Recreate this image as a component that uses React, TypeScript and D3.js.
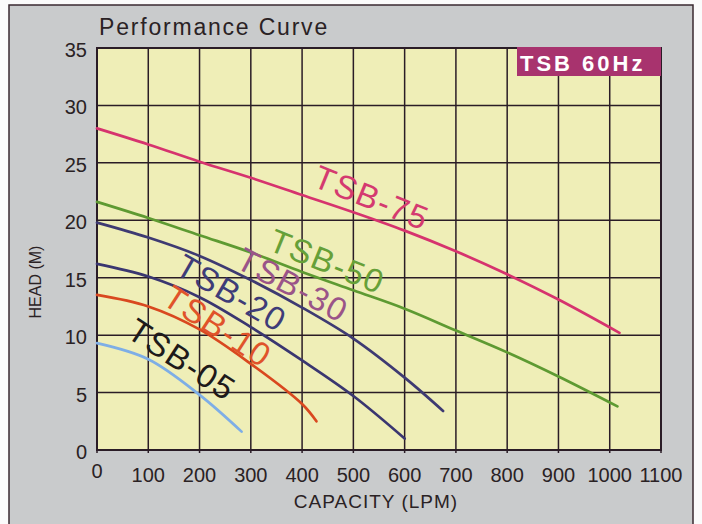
import React, { useEffect, useRef } from 'react'
import * as d3 from 'd3'

type TPoint = [number, number]

const capacityTicks = [0, 100, 200, 300, 400, 500, 600, 700, 800, 900, 1000, 1100]
const headTicks = [0, 5, 10, 15, 20, 25, 30, 35]

const models = ['TSB-75', 'TSB-50', 'TSB-30', 'TSB-20', 'TSB-10', 'TSB-05']

const tsb75: TPoint[] = [[0, 28], [100, 26.6], [200, 25.1], [300, 23.7], [400, 22.2], [500, 20.7], [600, 19.1], [700, 17.3], [800, 15.3], [900, 13.1], [1019, 10.2]]
const tsb50: TPoint[] = [[0, 21.6], [100, 20.2], [200, 18.7], [300, 17.2], [400, 15.5], [500, 13.9], [600, 12.3], [700, 10.4], [800, 8.5], [900, 6.4], [1015, 3.8]]
const tsb30: TPoint[] = [[0, 19.8], [100, 18.5], [200, 16.9], [300, 14.8], [400, 12.4], [500, 9.7], [600, 6.3], [675, 3.4]]
const tsb20: TPoint[] = [[0, 16.2], [100, 15.1], [200, 13.3], [300, 10.7], [400, 7.8], [500, 4.7], [600, 1.0]]
const tsb10: TPoint[] = [[0, 13.5], [100, 12.5], [200, 10.5], [300, 7.5], [400, 4.0], [428, 2.5]]
const tsb05: TPoint[] = [[0, 9.3], [100, 7.9], [200, 4.8], [282, 1.6]]

// where each model name sits (capacity, head) and its tilt in degrees
const labelCapacity = [536, 449, 382, 263, 236, 166]
const labelHead = [22.0, 16.45, 14.4, 13.7, 10.8, 7.9]
const labelAngle = [22, 22, 28, 30, 33, 33]

const series = [tsb75, tsb50, tsb30, tsb20, tsb10, tsb05]
const lineColors = ['#d6336e', '#5e9a32', '#3e3a72', '#3a3670', '#d9481f', '#7eaee6']
const textColors = ['#d43a70', '#66a038', '#9a5488', '#3e3c78', '#e0532a', '#1e1a1a']

const W = 702
const H = 524
const plot = { left: 97, right: 661, top: 48, bottom: 450 }
const FONT = '"Liberation Sans", Arial, sans-serif'

const App = (): JSX.Element => {
  const ref = useRef<SVGSVGElement>(null)

  useEffect(() => {
    const svg = d3.select(ref.current)
    svg.selectAll('*').remove()

    const x = d3.scaleLinear().domain([0, 1100]).range([plot.left, plot.right])
    const y = d3.scaleLinear().domain([0, 35]).range([plot.bottom, plot.top])

    // page + grey panel
    svg.append('rect').attr('width', W).attr('height', H).attr('fill', '#fbfbfb')
    svg
      .append('rect')
      .attr('x', 9)
      .attr('y', 5)
      .attr('width', 684)
      .attr('height', 530)
      .attr('fill', '#c9cbcc')
      .attr('stroke', '#3a2a30')
      .attr('stroke-width', 1.5)

    svg
      .append('text')
      .attr('x', 99)
      .attr('y', 35)
      .attr('font-family', FONT)
      .attr('font-size', 23)
      .attr('letter-spacing', 1.8)
      .attr('fill', '#2a2224')
      .text('Performance Curve')

    // plot background
    svg
      .append('rect')
      .attr('x', plot.left)
      .attr('y', plot.top)
      .attr('width', plot.right - plot.left)
      .attr('height', plot.bottom - plot.top)
      .attr('fill', '#efeeb7')

    // grid
    svg
      .append('g')
      .selectAll('line')
      .data(capacityTicks)
      .join('line')
      .attr('x1', d => x(d))
      .attr('x2', d => x(d))
      .attr('y1', plot.top)
      .attr('y2', plot.bottom + 3)
      .attr('stroke', '#2a1c26')
      .attr('stroke-width', 1.5)
    svg
      .append('g')
      .selectAll('line')
      .data(headTicks)
      .join('line')
      .attr('x1', plot.left)
      .attr('x2', plot.right)
      .attr('y1', d => y(d))
      .attr('y2', d => y(d))
      .attr('stroke', '#2a1c26')
      .attr('stroke-width', 1.5)
    svg
      .append('rect')
      .attr('x', plot.left)
      .attr('y', plot.top)
      .attr('width', plot.right - plot.left)
      .attr('height', plot.bottom - plot.top)
      .attr('fill', 'none')
      .attr('stroke', '#2a1c26')
      .attr('stroke-width', 2)

    // tick labels
    svg
      .append('g')
      .selectAll('text')
      .data(headTicks)
      .join('text')
      .attr('x', 87)
      .attr('y', d => y(d) + 9)
      .attr('text-anchor', 'end')
      .attr('font-family', FONT)
      .attr('font-size', 20)
      .attr('fill', '#2a2224')
      .text(d => d)
    svg
      .append('g')
      .selectAll('text')
      .data(capacityTicks)
      .join('text')
      .attr('x', d => x(d))
      .attr('y', d => (d === 0 ? 478 : 482))
      .attr('text-anchor', 'middle')
      .attr('font-family', FONT)
      .attr('font-size', 20)
      .attr('fill', '#2a2224')
      .text(d => d)

    svg
      .append('text')
      .attr('x', 376)
      .attr('y', 508)
      .attr('text-anchor', 'middle')
      .attr('font-family', FONT)
      .attr('font-size', 19)
      .attr('letter-spacing', 1)
      .attr('fill', '#2a2224')
      .text('CAPACITY (LPM)')
    svg
      .append('text')
      .attr('transform', 'translate(41,282) rotate(-90)')
      .attr('text-anchor', 'middle')
      .attr('font-family', FONT)
      .attr('font-size', 16)
      .attr('fill', '#2a2224')
      .text('HEAD (M)')

    // curves
    const line = d3
      .line<TPoint>()
      .x(d => x(d[0]))
      .y(d => y(d[1]))
      .curve(d3.curveCatmullRom.alpha(0.5))
    svg
      .append('g')
      .selectAll('path')
      .data(series)
      .join('path')
      .attr('d', d => line(d))
      .attr('fill', 'none')
      .attr('stroke', (_, i) => lineColors[i])
      .attr('stroke-width', 2.7)
      .attr('stroke-linecap', 'round')

    svg
      .append('g')
      .selectAll('text')
      .data(models)
      .join('text')
      .attr(
        'transform',
        (_, i) =>
          'translate(' + x(labelCapacity[i]) + ',' + y(labelHead[i]) + ') rotate(' + labelAngle[i] + ')',
      )
      .attr('dy', '0.36em')
      .attr('text-anchor', 'middle')
      .attr('font-family', FONT)
      .attr('font-size', 33)
      .attr('letter-spacing', 1.5)
      .attr('fill', (_, i) => textColors[i])
      .text(d => d)

    // badge
    svg
      .append('rect')
      .attr('x', 517)
      .attr('y', plot.top - 1)
      .attr('width', plot.right - 517)
      .attr('height', 29)
      .attr('fill', '#a8336e')
    svg
      .append('text')
      .attr('x', 520)
      .attr('y', 71)
      .attr('font-family', FONT)
      .attr('font-size', 22)
      .attr('font-weight', 'bold')
      .attr('letter-spacing', 3)
      .attr('fill', '#ffffff')
      .text('TSB 60Hz')
  }, [])

  return (
    <svg
      ref={ref}
      width={W}
      height={H}
      style={{ position: 'absolute', left: 0, top: 0 }}
    />
  )
}

export default App
